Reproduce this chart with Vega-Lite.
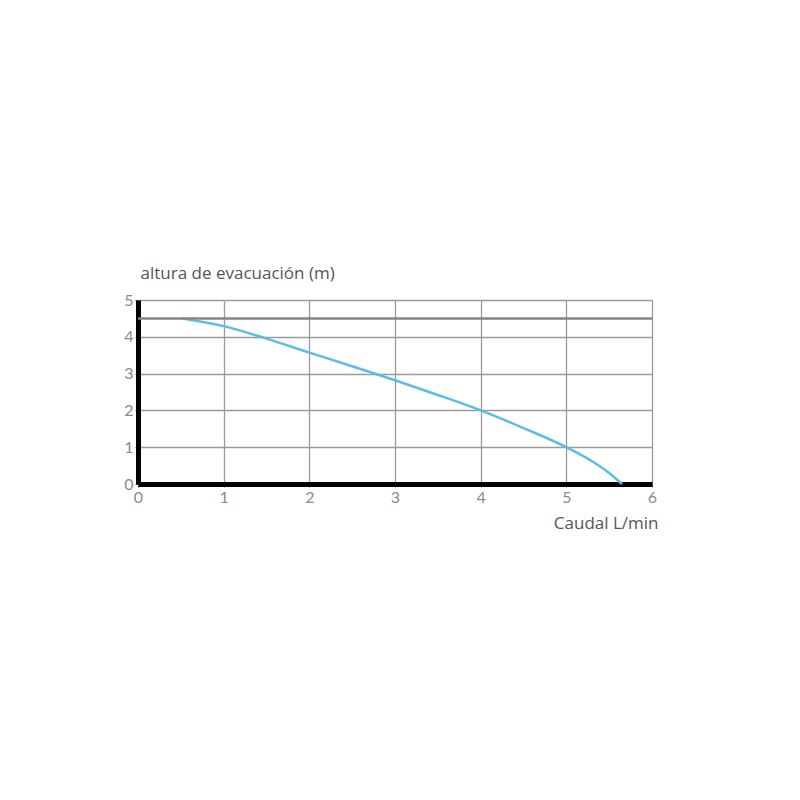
{
  "$schema": "https://vega.github.io/schema/vega-lite/v6.json",
  "autosize": "none",
  "width": 514,
  "height": 184,
  "padding": {"left": 138, "top": 300, "right": 148, "bottom": 316},
  "background": "white",
  "config": {"view": {"stroke": null}},
  "layer": [
    {
      "data": {"values": [
        {"q": 0.52, "h": 4.5},
        {"q": 1.0, "h": 4.29},
        {"q": 1.5, "h": 3.95},
        {"q": 2.0, "h": 3.57},
        {"q": 2.5, "h": 3.2},
        {"q": 3.0, "h": 2.82},
        {"q": 3.5, "h": 2.42},
        {"q": 4.0, "h": 2.0},
        {"q": 4.5, "h": 1.52},
        {"q": 5.0, "h": 1.0},
        {"q": 5.3, "h": 0.62},
        {"q": 5.5, "h": 0.3},
        {"q": 5.65, "h": 0.0}
      ]},
      "mark": {"type": "line", "color": "#5bbde6", "strokeWidth": 2.5, "interpolate": "monotone"},
      "encoding": {
        "x": {
          "field": "q", "type": "quantitative",
          "scale": {"domain": [0, 6], "nice": false},
          "axis": {
            "values": [0, 1, 2, 3, 4, 5, 6],
            "grid": true, "gridColor": "#9a9a9a", "gridWidth": 1.3, "gridOpacity": 1,
            "domainColor": "#000000", "domainWidth": 5,
            "ticks": true, "tickSize": 3, "tickColor": "#666666",
            "labelFlush": false, "labelOverlap": false,
            "labelFont": "Lato", "labelFontSize": 16, "labelColor": "#8a8a8a", "labelPadding": 2,
            "title": "Caudal L/min", "titleFont": "Open Sans", "titleFontSize": 17, "titleFontWeight": "normal",
            "titleColor": "#555555", "titleAnchor": "end", "titleAlign": "right", "titleX": 520, "titleY": 48, "titleBaseline": "bottom"
          }
        },
        "y": {
          "field": "h", "type": "quantitative",
          "scale": {"domain": [0, 5], "nice": false},
          "axis": {
            "values": [0, 1, 2, 3, 4, 5], "tickCount": 6,
            "grid": true, "gridColor": "#9a9a9a", "gridWidth": 1.3, "gridOpacity": 1,
            "domainColor": "#000000", "domainWidth": 5,
            "ticks": true, "tickSize": 3, "tickColor": "#666666",
            "labelFlush": false, "labelOverlap": false,
            "labelFont": "Lato", "labelFontSize": 16, "labelColor": "#8a8a8a", "labelPadding": 2,
            "title": "altura de evacuación (m)", "titleFont": "Open Sans", "titleFontSize": 17, "titleFontWeight": "normal",
            "titleColor": "#555555", "titleAngle": 0, "titleAlign": "left", "titleBaseline": "alphabetic", "titleX": 2, "titleY": -22
          }
        }
      }
    },
    {
      "data": {"values": [{"h": 4.5}]},
      "mark": {"type": "rule", "color": "#858585", "strokeWidth": 2.5},
      "encoding": {"y": {
        "field": "h", "type": "quantitative",
        "axis": {
            "values": [0, 1, 2, 3, 4, 5], "tickCount": 6,
            "grid": true, "gridColor": "#9a9a9a", "gridWidth": 1.3, "gridOpacity": 1,
            "domainColor": "#000000", "domainWidth": 5,
            "ticks": true, "tickSize": 3, "tickColor": "#666666",
            "labelFlush": false, "labelOverlap": false,
            "labelFont": "Lato", "labelFontSize": 16, "labelColor": "#8a8a8a", "labelPadding": 2,
            "title": "altura de evacuación (m)", "titleFont": "Open Sans", "titleFontSize": 17, "titleFontWeight": "normal",
            "titleColor": "#555555", "titleAngle": 0, "titleAlign": "left", "titleBaseline": "alphabetic", "titleX": 2, "titleY": -22
        }
      }}
    }
  ]
}
